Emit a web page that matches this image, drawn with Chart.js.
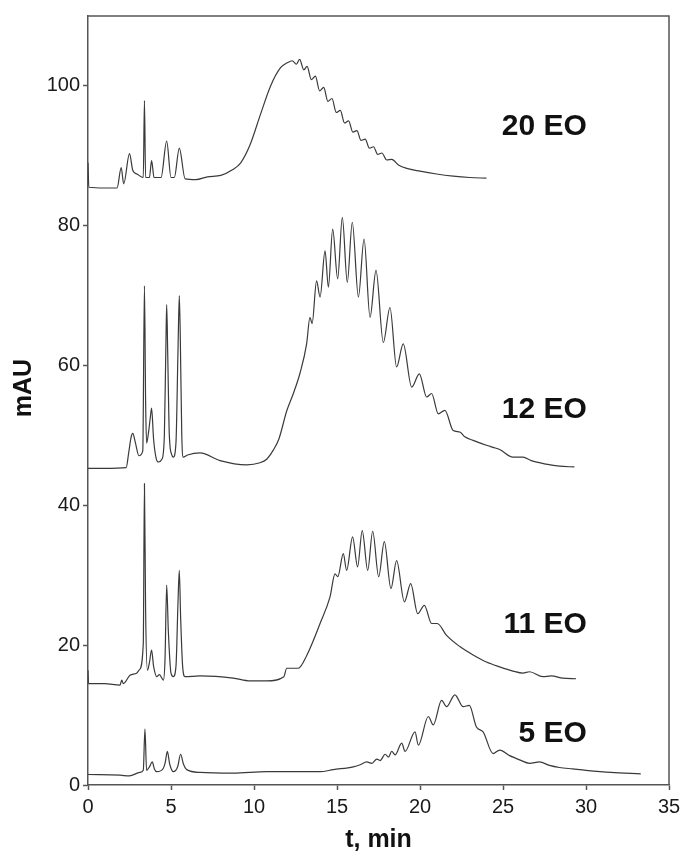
<!DOCTYPE html>
<html>
<head>
<meta charset="utf-8">
<script src="https://cdn.jsdelivr.net/npm/chart.js@4.4.1/dist/chart.umd.min.js"></script>
<style>
  html, body { margin: 0; padding: 0; background: #fff; }
  #wrap { width: 682px; height: 853px; }
</style>
</head>
<body>
<div id="wrap"><canvas id="c" width="682" height="853"></canvas></div>
<script>
// ---- Data ----
const xTicks = [0, 5, 10, 15, 20, 25, 30, 35];
const yTicks = [0, 20, 40, 60, 80, 100];
const seriesNames = ['20 EO', '12 EO', '11 EO', '5 EO'];
const labelValues = [94.1, 53.7, 22.9, 7.4];

const t20 = [0,0.05,1.0,1.75,2.0,2.15,2.5,2.7,2.95,3.33,3.4,3.47,3.7,3.83,3.98,4.4,4.74,5.0,5.2,5.5,5.85,6.5,7.2,8.0,8.7,9.2,9.75,10.4,11.0,11.6,12.0,12.3,12.55,12.75,13.0,13.2,13.45,13.7,13.95,14.2,14.45,14.7,14.95,15.2,15.45,15.7,15.95,16.2,16.45,16.7,16.95,17.2,17.45,17.7,18.0,18.3,18.7,19.2,20,21,22,23,24];
const v20 = [89.0,85.5,85.4,85.4,88.3,86.0,90.3,87.9,87.4,86.9,97.9,86.9,86.9,89.3,86.9,86.9,92.1,86.9,86.9,91.1,86.7,86.6,87.0,87.2,88.0,89.0,91.5,96.0,100.0,102.6,103.3,103.6,103.1,103.8,102.3,102.8,100.9,101.4,99.3,99.8,97.8,98.2,96.2,96.5,94.7,95.0,93.4,93.6,92.2,92.4,91.1,91.3,90.2,90.4,89.4,89.5,88.7,88.2,87.8,87.4,87.1,86.9,86.8];

const t12 = [0,1.0,2.3,2.45,2.6,2.7,2.85,3.07,3.3,3.4,3.47,3.53,3.65,3.75,3.83,3.95,4.1,4.24,4.45,4.6,4.7,4.74,4.8,4.9,5.05,5.14,5.3,5.42,5.5,5.56,5.65,5.74,6.0,6.75,7.95,9.56,10.36,10.76,11.16,11.5,11.97,12.37,12.77,13.17,13.37,13.5,13.77,13.98,14.28,14.48,14.74,15.04,15.32,15.62,15.92,16.29,16.63,16.99,17.35,17.79,18.19,18.59,18.99,19.5,19.96,20.4,20.7,21.1,21.5,22.0,22.4,22.7,23.2,24.0,24.4,24.8,25.6,26.2,26.7,27.6,28.4,29.3];
const v12 = [45.3,45.3,45.4,47.5,49.8,50.3,49.0,47.1,47.8,71.4,55.0,48.9,50.5,52.5,53.9,49.5,46.8,46.2,46.6,50.0,64.0,68.7,62.0,50.0,47.2,46.9,49.0,62.0,70.0,64.0,50.0,46.9,47.2,47.5,46.4,45.8,46.1,46.6,47.9,49.5,53.5,56.0,58.9,63.1,66.9,66.0,72.1,69.8,76.4,71.2,79.5,72.4,81.2,71.9,80.5,69.8,78.1,66.9,73.6,63.3,68.3,59.8,63.1,56.9,58.8,55.5,56.0,53.1,53.6,50.7,50.5,49.8,49.3,48.6,48.3,48.0,46.9,46.9,46.4,45.9,45.6,45.5];

const t11 = [0,0.03,1.0,1.93,2.03,2.13,2.53,2.93,3.1,3.33,3.4,3.47,3.58,3.7,3.83,3.95,4.14,4.3,4.54,4.64,4.74,4.84,5.0,5.14,5.3,5.42,5.5,5.58,5.7,5.84,6.75,8.75,9.76,10.76,11.8,11.97,12.67,13.17,13.98,14.58,14.88,15.05,15.38,15.58,15.94,16.24,16.52,16.85,17.15,17.51,17.85,18.25,18.59,19.06,19.44,19.86,20.26,20.7,21.04,21.6,22.4,23.2,24.0,24.8,25.6,26.2,26.6,27.4,27.9,28.6,29.4];
const v11 = [16.4,14.5,14.5,14.3,15.0,14.5,15.7,16.0,16.5,20.2,43.1,25.0,16.4,17.5,19.3,17.0,15.5,15.8,15.0,18.0,28.6,22.0,16.0,15.5,17.0,26.0,30.7,24.0,17.0,15.5,15.6,15.3,14.9,14.9,15.5,16.7,16.7,18.5,23.1,26.9,30.2,29.8,33.1,30.7,35.5,31.2,36.4,30.7,36.3,29.8,34.8,28.1,32.1,26.2,28.8,24.5,25.7,23.1,23.1,21.4,19.8,18.6,17.6,16.9,16.3,16.0,16.2,15.5,15.6,15.3,15.2];

const t5 = [0,1.93,2.5,3.13,3.33,3.43,3.53,3.7,3.87,4.0,4.14,4.54,4.65,4.78,4.92,5.14,5.4,5.58,5.75,5.95,6.75,8.75,10.76,12.77,13.98,14.78,15.98,16.4,16.79,17.1,17.4,17.6,17.9,18.1,18.3,18.5,18.9,19.1,19.7,19.9,20.5,20.8,21.3,21.6,22.1,22.6,22.97,23.4,23.8,24.4,24.8,25.4,26.0,26.6,27.2,27.8,28.4,29.2,30.0,31.5,33.3];
const v5 = [1.5,1.4,1.3,1.8,2.1,8.0,2.1,2.6,3.3,2.3,1.9,2.4,3.2,4.8,3.0,1.9,2.6,4.4,3.0,2.2,1.8,1.7,1.9,1.9,1.9,2.2,2.6,2.9,3.3,3.1,3.7,3.5,4.4,4.0,4.8,4.3,6.0,4.8,7.6,5.7,9.8,8.6,12.1,11.2,12.9,11.2,11.4,8.3,7.6,4.5,5.0,4.2,3.6,3.1,3.3,2.8,2.5,2.3,2.1,1.8,1.6];

// ---- Build datasets ----
const pairs = (ts, vs) => ts.map((t, i) => ({ x: t, y: vs[i] }));
const seriesData = [pairs(t20, v20), pairs(t12, v12), pairs(t11, v11), pairs(t5, v5)];

const LINE = '#3a3a3a';
const AXIS = '#555555';
const FONT = "'Liberation Sans', Arial, Helvetica, sans-serif";

const framePlugin = {
  id: 'frame',
  afterDraw(chart) {
    const { ctx, chartArea: a, scales } = chart;
    ctx.save();
    ctx.strokeStyle = AXIS;
    ctx.lineWidth = 1.5;
    ctx.beginPath();
    ctx.moveTo(a.left, a.top);
    ctx.lineTo(a.right, a.top);
    ctx.lineTo(a.right, a.bottom);
    ctx.stroke();

    ctx.fillStyle = '#111';
    ctx.font = "bold 30px " + FONT;
    ctx.textAlign = 'right';
    ctx.textBaseline = 'middle';
    const lx = scales.x.getPixelForValue(30.05);
    seriesNames.forEach((name, i) => {
      ctx.fillText(name, lx, scales.y.getPixelForValue(labelValues[i]));
    });

    ctx.font = "bold 25px " + FONT;
    ctx.textAlign = 'center';
    ctx.fillText('t, min', (a.left + a.right) / 2, 840);
    ctx.translate(24, 388);
    ctx.rotate(-Math.PI / 2);
    ctx.fillText('mAU', 0, 0);
    ctx.restore();
  }
};

new Chart(document.getElementById('c'), {
  type: 'line',
  data: {
    datasets: seriesData.map((d, i) => ({
      label: seriesNames[i],
      data: d,
      borderColor: LINE,
      borderWidth: 1.2,
      pointRadius: 0,
      cubicInterpolationMode: 'monotone',
      fill: false
    }))
  },
  options: {
    responsive: false,
    animation: false,
    layout: { padding: { top: 16, right: 13, left: 0, bottom: 0 } },
    plugins: { legend: { display: false }, tooltip: { enabled: false } },
    scales: {
      x: {
        type: 'linear',
        min: 0, max: 35,
        afterBuildTicks: s => { s.ticks = xTicks.map(v => ({ value: v })); },
        afterFit: s => { s.height = 68; s.paddingRight = 0; s.paddingLeft = 0; },
        grid: { drawOnChartArea: false, drawTicks: true, tickLength: 5, color: AXIS, tickWidth: 1.5 },
        border: { display: true, color: AXIS, width: 1.5 },
        ticks: { font: { family: FONT, size: 20 }, color: '#1a1a1a', padding: 5, maxRotation: 0 }
      },
      y: {
        type: 'linear',
        min: 0, max: 110,
        afterBuildTicks: s => { s.ticks = yTicks.map(v => ({ value: v })); },
        afterFit: s => { s.width = 88; s.paddingTop = 0; s.paddingBottom = 0; },
        grid: { drawOnChartArea: false, drawTicks: true, tickLength: 5, color: AXIS, tickWidth: 1.5 },
        border: { display: true, color: AXIS, width: 1.5 },
        ticks: { font: { family: FONT, size: 20 }, color: '#1a1a1a', padding: 3 }
      }
    }
  },
  plugins: [framePlugin]
});
</script>
</body>
</html>
